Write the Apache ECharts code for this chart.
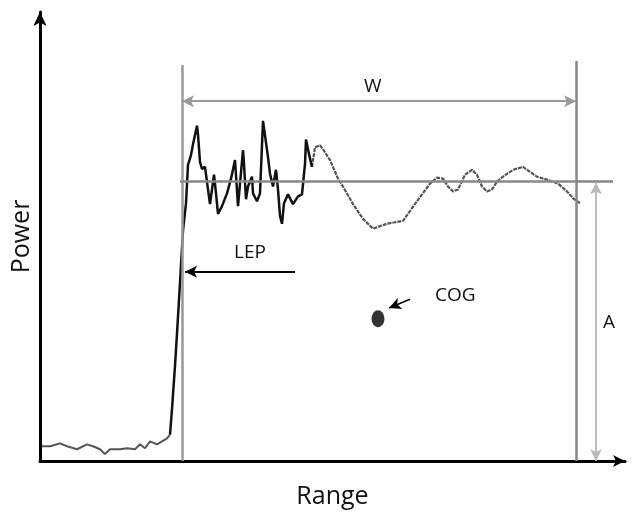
<!DOCTYPE html>
<html><head><meta charset="utf-8">
<script src="https://cdn.jsdelivr.net/npm/echarts@6/dist/echarts.min.js"></script>
<style>html,body{margin:0;padding:0;background:#fff}#c{width:636px;height:514px}</style>
</head><body><div id="c"></div>
<script>
// Baseline noise before the leading edge
const noiseX = [2,10,20,27,37,47,53,60,65,70,80,87,95,100,105,110,117,122,127,130];
const noiseY = [15,15,18,15,12,17,15,12,7,12,12,13,12,17,13,20,17,20,23,27];
// Leading edge and spiky part
const pulseX = [130,132,135,137,140,143,146,148,151,153,157,158,160,162,165,168,170,174,176,178,182,187,191,195,198,203,204,206,208,212,213,217,220,223,225,228,230,233,236,238,240,242,244,248,253,258,262,265,266,269,272];
const pulseY = [27,53,97,130,182,235,263,302,312,323,342,333,305,298,300,277,262,292,273,252,260,273,288,307,260,317,303,267,280,290,273,265,273,347,348,310,293,280,297,277,250,242,263,272,262,270,272,303,328,313,300];
// Smoother tail
const tailX = [272,275,280,283,290,298,303,313,323,333,347,363,377,390,397,403,408,413,418,425,432,437,442,447,452,457,463,473,483,490,497,507,518,527,533,540];
const tailY = [300,320,322,318,307,288,280,262,247,237,242,245,265,283,289,288,280,275,277,292,297,292,280,275,277,285,290,297,300,295,290,287,283,275,268,263];
// Annotation values (axis units)
const threshold = 285;          // mean level line
const leftEdge = 142, rightEdge = 536, gateTop = [404, 408];
const wLevel = 367, aPos = 556;
const lepArrow = [[255,193],[145,193]];
const cogArrow = [[370,165],[349,156]];
const cog = [338,145];
const labels = {W:'W', LEP:'LEP', COG:'COG', A:'A'};

const zip = (xs, ys) => xs.map((x, i) => [x, ys[i]]);
const font = '"Open Sans", sans-serif';

const chart = echarts.init(document.getElementById('c'), null, {renderer:'canvas'});
chart.setOption({
  animation:false,
  backgroundColor:'#fff',
  grid:{left:40, top:12, width:585, height:458, containLabel:false},
  xAxis:{type:'value', min:0, max:585, name:'Range', nameLocation:'middle', nameGap:23,
    nameTextStyle:{fontFamily:font, fontSize:25, color:'#111'},
    axisLine:{show:true, onZero:false, symbol:['none','arrow'], symbolSize:[9,12], lineStyle:{color:'#000', width:3}},
    axisTick:{show:false}, axisLabel:{show:false}, splitLine:{show:false}},
  yAxis:{type:'value', min:0, max:458, name:'Power', nameLocation:'middle', nameGap:6,
    nameTextStyle:{fontFamily:font, fontSize:25, color:'#111'},
    axisLine:{show:true, onZero:false, symbol:['none','arrow'], symbolSize:[10,14], lineStyle:{color:'#000', width:3}},
    axisTick:{show:false}, axisLabel:{show:false}, splitLine:{show:false}},
  series:[
    {type:'line', data:zip(noiseX, noiseY), showSymbol:false, lineStyle:{color:'#555', width:2}, z:3},
    {type:'line', data:zip(pulseX, pulseY), showSymbol:false, lineStyle:{color:'#111', width:2.5}, z:4},
    {type:'line', data:zip(tailX, tailY), showSymbol:false, lineStyle:{color:'#555', width:2.2, type:[4,1]}, z:3},
    {type:'scatter', data:[cog], symbol:'circle', symbolSize:[13,17], itemStyle:{color:'#000'}, z:5},
    {type:'line', data:[], markLine:{silent:true, symbol:'none', label:{show:false},
      data:[
        [{coord:[leftEdge,0], lineStyle:{color:'#999', width:2.5, type:'solid'}}, {coord:[leftEdge,gateTop[0]]}],
        [{coord:[rightEdge,0], lineStyle:{color:'#888', width:2.5, type:'solid'}}, {coord:[rightEdge,gateTop[1]]}],
        [{coord:[140,threshold], lineStyle:{color:'#888', width:2.5, type:'solid'}}, {coord:[573,threshold]}]
      ]}, z:2},
    {type:'line', data:[], markLine:{silent:true, symbol:['arrow','arrow'], symbolSize:[9,12], label:{show:false},
      data:[
        [{coord:[leftEdge,wLevel], lineStyle:{color:'#999', width:2, type:'solid'}}, {coord:[rightEdge,wLevel]}],
        [{coord:[aPos,threshold-1], lineStyle:{color:'#bbb', width:2, type:'solid'}}, {coord:[aPos,0]}]
      ]}, z:2},
    {type:'line', data:[], markLine:{silent:true, symbol:['none','arrow'], symbolSize:[9,12], label:{show:false},
      data:[
        [{coord:lepArrow[0], lineStyle:{color:'#000', width:2, type:'solid'}}, {coord:lepArrow[1]}],
        [{coord:cogArrow[0], lineStyle:{color:'#000', width:1.5, type:'solid'}}, {coord:cogArrow[1]}]
      ]}, z:5}
  ],
  graphic:[
    {type:'text', left:364, top:77, style:{text:labels.W, fontFamily:font, fontSize:19, fill:'#111'}},
    {type:'text', left:234, top:243, style:{text:labels.LEP, fontFamily:font, fontSize:19, fill:'#111'}},
    {type:'text', left:435, top:286, style:{text:labels.COG, fontFamily:font, fontSize:19, fill:'#111'}},
    {type:'text', left:603, top:313, style:{text:labels.A, fontFamily:font, fontSize:19, fill:'#111'}}
  ]
});
</script></body></html>
